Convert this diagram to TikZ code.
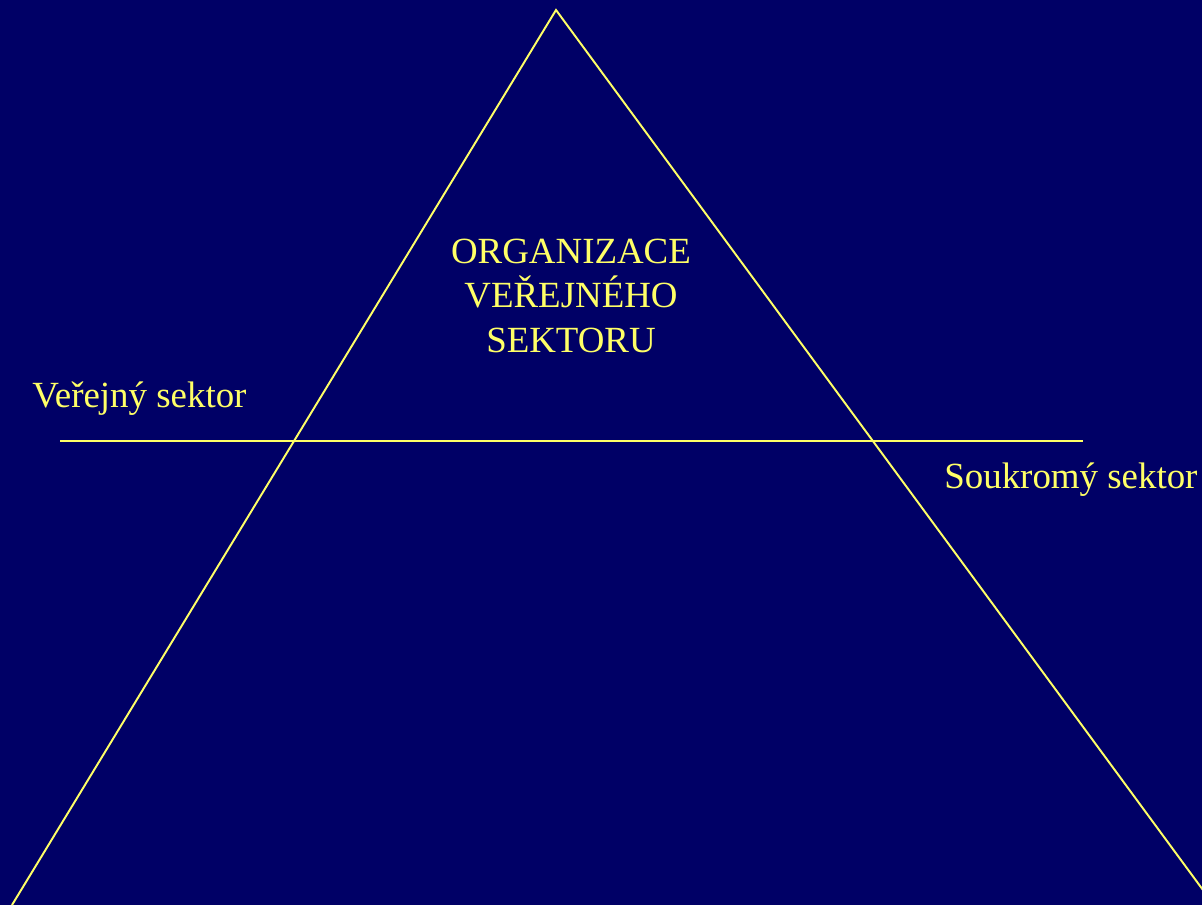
\documentclass[tikz,border=0pt]{standalone}
\usepackage{fontspec}
\setmainfont{Liberation Serif}
\definecolor{navy}{HTML}{000066}
\definecolor{paleyellow}{HTML}{FFFF66}
\tikzset{
  edge/.style={draw=paleyellow,line width=1.1pt},
  label/.style={text=paleyellow,inner sep=0pt,font=\fontsize{21}{25.3}\selectfont}
}
\begin{document}
\begin{tikzpicture}[x=0.02cm,y=-0.02cm]
  \fill[navy] (0,0) rectangle (1202,905);
  \useasboundingbox (0,0) rectangle (1202,905);
  \clip (0,0) rectangle (1202,905);
  \coordinate (top) at (556,10);
  \coordinate (botleft) at (12,905);
  \coordinate (botright) at (1214,905);
  \coordinate (lineleft) at (60,441);
  \coordinate (lineright) at (1083,441);
  \draw[edge] (botleft) -- (top) -- (botright);
    \draw[edge] (lineleft) -- (lineright);
  \node[label,align=center,anchor=base] (title) at (571,352) {ORGANIZACE\\VEŘEJNÉHO\\SEKTORU};
  \node[label,anchor=base west] (public) at (32,407) {Veřejný sektor};
  \node[label,anchor=base west] (private) at (944,488) {Soukromý sektor};
\end{tikzpicture}
\end{document}
